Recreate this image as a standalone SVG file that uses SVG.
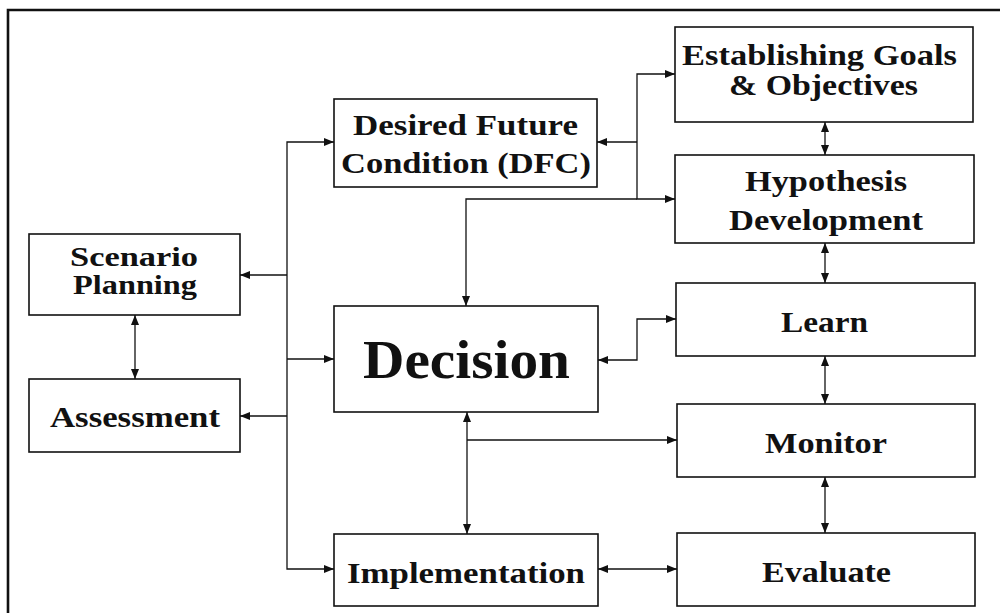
<svg xmlns="http://www.w3.org/2000/svg" width="1000" height="613" viewBox="0 0 1000 613">
<style>
.box{fill:#fff;stroke:#111;stroke-width:1.6}
.t{font-family:"Liberation Serif","Times New Roman",serif;font-weight:bold;font-size:30px;fill:#111}
.s28{font-size:28px}
.big{font-size:54px}
.c{fill:none;stroke:#111;stroke-width:1.3}
</style>
<defs>
<marker id="ah" markerUnits="userSpaceOnUse" markerWidth="10" markerHeight="8" refX="10" refY="4" orient="auto-start-reverse" viewBox="0 0 10 8">
<path d="M0,0 L10,4 L0,8 z" fill="#111"/>
</marker>
</defs>
<rect width="1000" height="613" fill="#fff"/>
<path d="M8,613 V10 H1000" fill="none" stroke="#111" stroke-width="2.6"/>

<g id="connectors">
<path class="c" d="M334,142 H287 V569 H334" marker-start="url(#ah)" marker-end="url(#ah)"/>
<path class="c" d="M287,275 H240" marker-end="url(#ah)"/>
<path class="c" d="M287,359 H334" marker-end="url(#ah)"/>
<path class="c" d="M287,416 H240" marker-end="url(#ah)"/>
<path class="c" d="M135,315 V379" marker-start="url(#ah)" marker-end="url(#ah)"/>
<path class="c" d="M675,74 H637 V199 H675" marker-start="url(#ah)" marker-end="url(#ah)"/>
<path class="c" d="M637,142 H597" marker-end="url(#ah)"/>
<path class="c" d="M637,199 H466 V306" marker-end="url(#ah)"/>
<path class="c" d="M825,122 V155" marker-start="url(#ah)" marker-end="url(#ah)"/>
<path class="c" d="M825,243 V283" marker-start="url(#ah)" marker-end="url(#ah)"/>
<path class="c" d="M825,356 V404" marker-start="url(#ah)" marker-end="url(#ah)"/>
<path class="c" d="M825,477 V533" marker-start="url(#ah)" marker-end="url(#ah)"/>
<path class="c" d="M598,360 H637 V319 H676" marker-start="url(#ah)" marker-end="url(#ah)"/>
<path class="c" d="M467,412 V534" marker-start="url(#ah)" marker-end="url(#ah)"/>
<path class="c" d="M467,440 H677" marker-end="url(#ah)"/>
<path class="c" d="M598,569 H677" marker-start="url(#ah)" marker-end="url(#ah)"/>
</g>

<g id="scenario">
<rect class="box" x="29" y="234" width="211" height="81"/>
<text class="t s28" x="70" y="266" textLength="128" lengthAdjust="spacingAndGlyphs">Scenario</text>
<text class="t s28" x="73" y="294" textLength="124" lengthAdjust="spacingAndGlyphs">Planning</text>
</g>
<g id="assessment">
<rect class="box" x="29" y="379" width="211" height="73"/>
<text class="t" x="50" y="427" textLength="170" lengthAdjust="spacingAndGlyphs">Assessment</text>
</g>
<g id="dfc">
<rect class="box" x="334" y="99" width="263" height="88"/>
<text class="t" x="353" y="135" textLength="225" lengthAdjust="spacingAndGlyphs">Desired Future</text>
<text class="t" x="341" y="173" textLength="250" lengthAdjust="spacingAndGlyphs">Condition (DFC)</text>
</g>
<g id="goals">
<rect class="box" x="675" y="27" width="298" height="95"/>
<text class="t" x="682" y="65" textLength="275" lengthAdjust="spacingAndGlyphs">Establishing Goals</text>
<text class="t" x="729" y="95" textLength="189" lengthAdjust="spacingAndGlyphs">&amp; Objectives</text>
</g>
<g id="hypothesis">
<rect class="box" x="675" y="155" width="299" height="88"/>
<text class="t" x="745" y="191" textLength="162" lengthAdjust="spacingAndGlyphs">Hypothesis</text>
<text class="t" x="729" y="230" textLength="194" lengthAdjust="spacingAndGlyphs">Development</text>
</g>
<g id="decision">
<rect class="box" x="334" y="306" width="264" height="106"/>
<text class="t big" x="363" y="378" textLength="207" lengthAdjust="spacingAndGlyphs">Decision</text>
</g>
<g id="learn">
<rect class="box" x="676" y="283" width="299" height="73"/>
<text class="t" x="781" y="332" textLength="87" lengthAdjust="spacingAndGlyphs">Learn</text>
</g>
<g id="monitor">
<rect class="box" x="677" y="404" width="298" height="73"/>
<text class="t" x="765" y="453" textLength="122" lengthAdjust="spacingAndGlyphs">Monitor</text>
</g>
<g id="implementation">
<rect class="box" x="334" y="534" width="264" height="72"/>
<text class="t" x="347" y="583" textLength="238" lengthAdjust="spacingAndGlyphs">Implementation</text>
</g>
<g id="evaluate">
<rect class="box" x="677" y="533" width="298" height="73"/>
<text class="t" x="762" y="582" textLength="129" lengthAdjust="spacingAndGlyphs">Evaluate</text>
</g>
</svg>
